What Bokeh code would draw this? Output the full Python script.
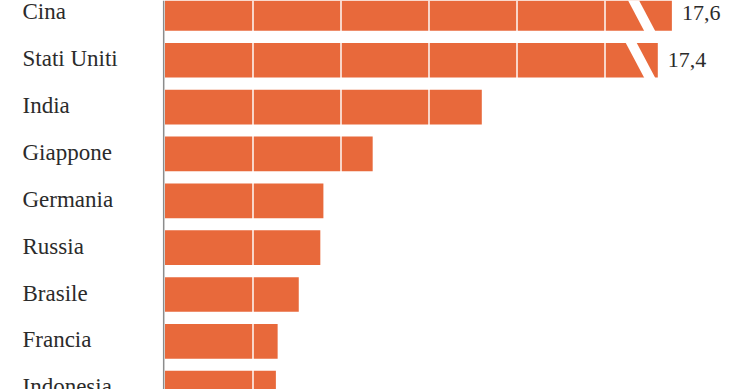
from bokeh.plotting import figure
from bokeh.models import Range1d, Span, ColumnDataSource
from bokeh.core.properties import value
from bokeh.embed import file_html
from bokeh.resources import INLINE

# --- data (GDP, trillions) ---
countries = ["Cina", "Stati Uniti", "India", "Giappone", "Germania",
             "Russia", "Brasile", "Francia", "Indonesia"]
gdp = [17.6, 17.4, 7.2, 4.72, 3.6, 3.53, 3.04, 2.56, 2.52]
value_labels = ["17,6", "17,4", "", "", "", "", "", "", ""]
grid_ticks = [2, 4, 6, 8, 10]

# --- broken-axis settings: values above the break are compressed ---
BREAK_LIMIT = 10.0
BREAK_SHOWN = 10.4
BREAK_REF = 16.9
BREAK_SCALE = 1.6

def shown(v):
    if v > BREAK_LIMIT:
        return BREAK_SHOWN + (v - BREAK_REF) * BREAK_SCALE
    return v

BAR_COLOR = "#e8693b"
TEXT_COLOR = "#2b2b2b"
FONT = "Liberation Serif"
BAR_H = 0.74

ys = list(range(len(countries)))
shown_vals = [shown(v) for v in gdp]

W, H = 740, 389
PX_X0, PX_UNIT = 164.5, 44.0
PY_C0, PY_STEP = 12.9, 46.85

p = figure(width=W, height=H,
           x_range=Range1d(-PX_X0 / PX_UNIT, (W - PX_X0) / PX_UNIT),
           y_range=Range1d((H - PY_C0) / PY_STEP, -PY_C0 / PY_STEP),
           x_axis_type=None, y_axis_type=None,
           output_backend="svg", toolbar_location=None,
           min_border=0, outline_line_color=None)
p.background_fill_color = "white"
p.border_fill_color = "white"
p.xgrid.visible = False
p.ygrid.visible = False

src = ColumnDataSource(dict(y=ys, right=shown_vals, name=countries,
                            lab=value_labels))
p.hbar(y="y", left=0, right="right", height=BAR_H, source=src,
       fill_color=BAR_COLOR, line_color=None)

# white grid lines over bars
for t in grid_ticks:
    p.add_layout(Span(location=t, dimension="height", line_color="white",
                      line_width=1.6, line_alpha=0.9, level="overlay"))

# break bands for compressed bars
xs_b, ys_b = [], []
for y, v in zip(ys, gdp):
    if v > BREAK_LIMIT:
        top = y - BAR_H / 2 - 0.02
        bot = y + BAR_H / 2 + 0.02
        x_top, x_bot, w = 10.46, 10.9, 0.25
        xs_b.append([x_top, x_top + w, x_bot + w, x_bot])
        ys_b.append([top, top, bot, bot])
p.patches(xs_b, ys_b, fill_color="white", line_color=None)

# axis line
p.add_layout(Span(location=-0.03, dimension="height", line_color="#8c8c8c",
                  line_width=1.5))

# category labels
lab_x = [(22 - PX_X0) / PX_UNIT] * len(countries)
p.text(x=lab_x, y=[y - 0.03 for y in ys], text=countries,
       text_font=value(FONT), text_font_size="23px", text_color=TEXT_COLOR,
       text_baseline="middle", text_align="left")

# value labels
vx = [s + 10 / PX_UNIT for s in shown_vals]
p.text(x=vx, y=ys, text=value_labels, text_font=value(FONT),
       text_font_size="22px", text_color=TEXT_COLOR,
       text_baseline="middle", text_align="left")

open("out.html", "w").write(file_html(p, INLINE))
